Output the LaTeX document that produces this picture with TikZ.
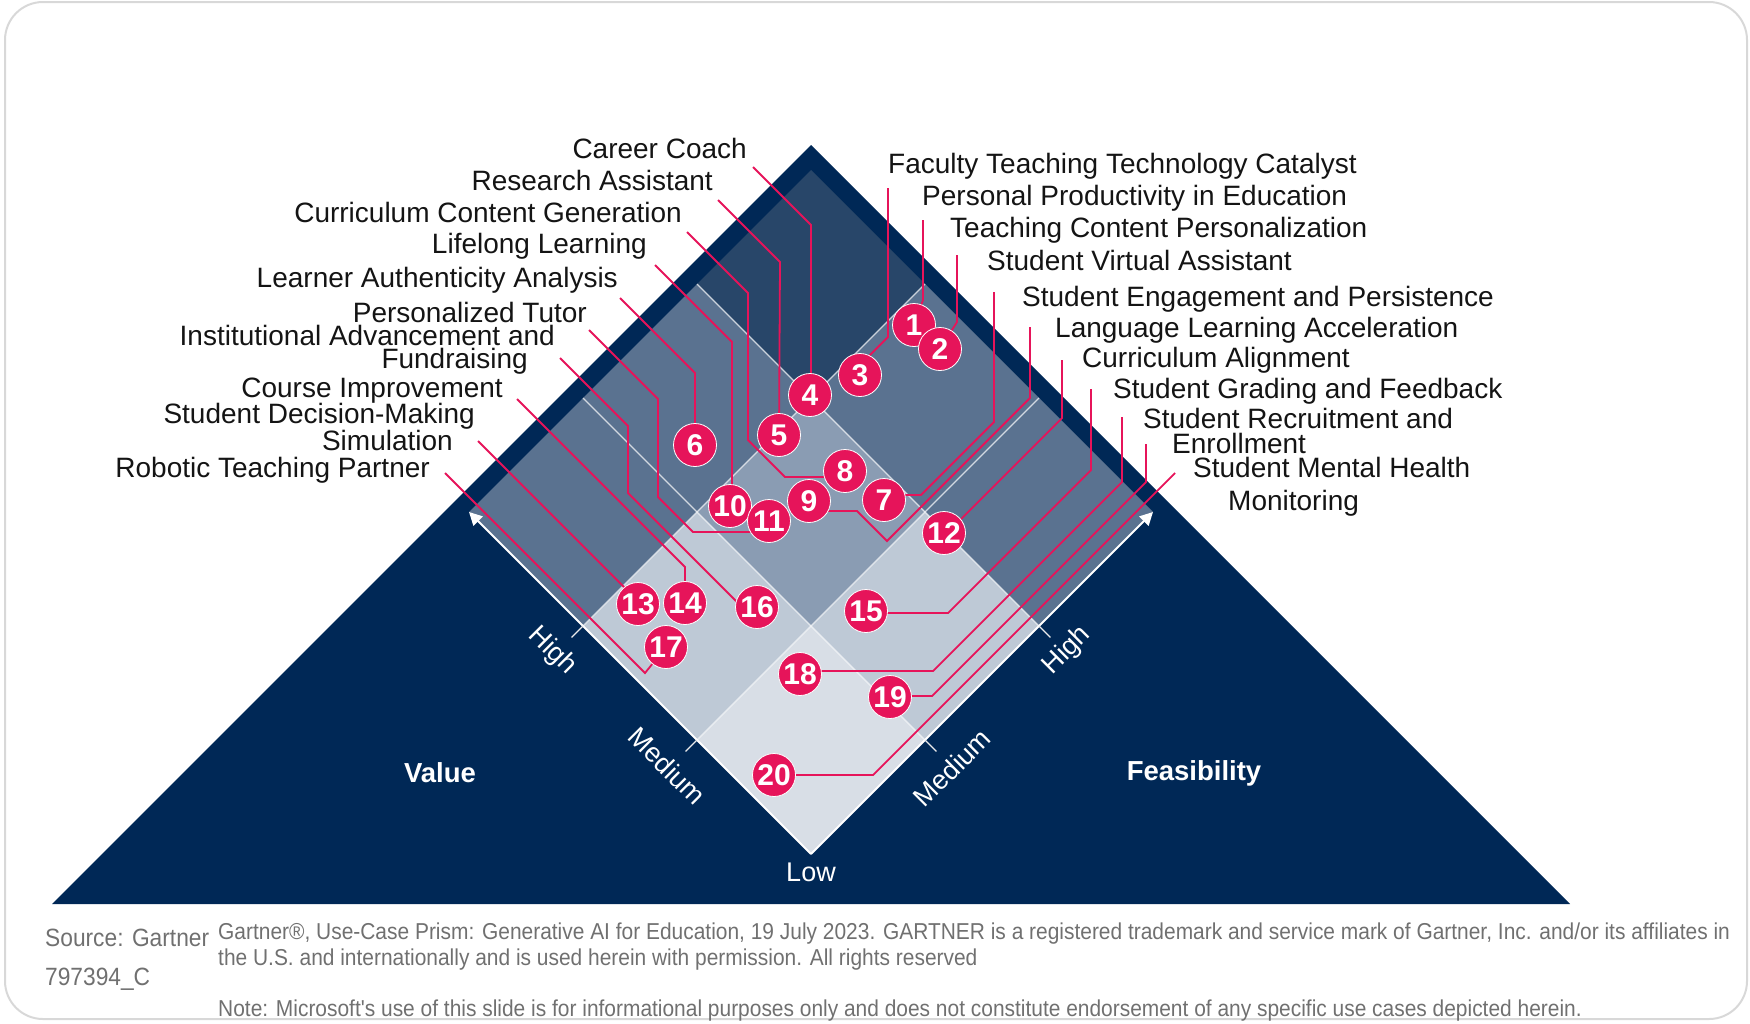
\documentclass[tikz,border=0pt]{standalone}
\usepackage{fontspec}
\setmainfont{Liberation Sans}
\newfontfamily\footfont[FakeStretch=0.91]{Liberation Sans}
\usetikzlibrary{arrows.meta}
\definecolor{navy}{HTML}{002856}
\definecolor{cTop}{HTML}{284669}
\definecolor{cMed}{HTML}{5A7290}
\definecolor{cCen}{HTML}{8A9CB3}
\definecolor{cLgt}{HTML}{BEC9D6}
\definecolor{cLow}{HTML}{D8DEE6}
\definecolor{crim}{HTML}{E6145A}
\definecolor{footgray}{HTML}{707070}
\definecolor{framegray}{HTML}{D8D8D8}
\begin{document}
\begin{tikzpicture}[x=1pt,y=-1pt,
  lab/.style={font=\fontsize{28}{30}\selectfont, text=black!92, inner sep=0pt},
  lableft/.style={lab, anchor=base east},
  labright/.style={lab, anchor=base west},
  badge/.style={circle, fill=crim, text=white, draw=white, line width=0.8pt, minimum size=43pt, inner sep=0pt, font=\bfseries\fontsize{30}{30}\selectfont},
  lead/.style={draw=crim, line width=1.8pt},
  gridl/.style={draw=white, draw opacity=0.75, line width=1.2pt},
  axl/.style={draw=white, line width=2pt},
  tickl/.style={draw=white!85!gray, line width=1.2pt},
  axlab/.style={text=white, font=\fontsize{27}{27}\selectfont, inner sep=0pt},
  bigl/.style={text=white, font=\bfseries\fontsize{27.5}{28}\selectfont, inner sep=0pt},
  ftxt/.style={text=footgray, font=\footfont\fontsize{23}{25}\selectfont, inner sep=0pt, anchor=base west},
  fside/.style={ftxt, font=\footfont\fontsize{25}{27}\selectfont}
]
\useasboundingbox (0,0) rectangle (1750,1023);
% frame
\draw[framegray, line width=2pt, rounded corners=38pt] (5,2) rectangle (1747,1019);
% outer prism
\fill[navy] (811,145) -- (1570,904) -- (52,904) -- cycle;
% grid of cells (x = feasibility, y = value)
\begin{scope}[shift={(811,854)}, x={(114pt,114pt)}, y={(-114pt,114pt)}]
  \fill[cLow] (0,0) -- (1,0) -- (1,1) -- (0,1) -- cycle;
  \fill[cLgt] (0,1) -- (1,1) -- (1,2) -- (0,2) -- cycle;
  \fill[cLgt] (1,0) -- (2,0) -- (2,1) -- (1,1) -- cycle;
  \fill[cCen] (1,1) -- (2,1) -- (2,2) -- (1,2) -- cycle;
  \fill[cMed] (0,2) -- (1,2) -- (1,3) -- (0,3) -- cycle;
  \fill[cMed] (1,2) -- (2,2) -- (2,3) -- (1,3) -- cycle;
  \fill[cMed] (2,0) -- (3,0) -- (3,1) -- (2,1) -- cycle;
  \fill[cMed] (2,1) -- (3,1) -- (3,2) -- (2,2) -- cycle;
  \fill[cTop] (2,2) -- (3,2) -- (3,3) -- (2,3) -- cycle;
  \draw[gridl] (1,0) -- (1,3);
  \draw[gridl] (2,0) -- (2,3);
  \draw[gridl] (0,1) -- (3,1);
  \draw[gridl] (0,2) -- (3,2);
  \coordinate (low) at (0,0);
  \coordinate (vtop) at (0,3);
  \coordinate (ftop) at (3,0);
  \draw[axl, -{Triangle[length=13pt,width=13pt]}] (low) -- (vtop);
  \draw[axl, -{Triangle[length=13pt,width=13pt]}] (low) -- (ftop);
  \draw[tickl] (0,2) -- (-0.1,2);
  \draw[tickl] (0,1) -- (-0.1,1);
  \draw[tickl] (2,0) -- (2,-0.1);
  \draw[tickl] (1,0) -- (1,-0.1);
\end{scope}
% axis labels
\node[axlab, rotate=-45] (vh) at (552,651) {High};
\node[axlab, rotate=-45] (vm) at (667,766) {Medium};
\node[axlab, rotate=45] (fh) at (1067,651) {High};
\node[axlab, rotate=45] (fm) at (952,768) {Medium};
\node[axlab] (lowl) at (811,872) {Low};
\node[bigl] (value) at (440,773) {Value};
\node[bigl] (feas) at (1194,773) {Feasibility};
% badge centres
\coordinate (p1) at (914,325);
\coordinate (p2) at (940,349);
\coordinate (p3) at (860,375);
\coordinate (p4) at (810,395);
\coordinate (p5) at (779,435);
\coordinate (p6) at (695,445);
\coordinate (p7) at (884,500);
\coordinate (p8) at (845,471);
\coordinate (p9) at (809,501);
\coordinate (p10) at (730,506);
\coordinate (p11) at (769,521);
\coordinate (p12) at (944,533);
\coordinate (p13) at (638,604);
\coordinate (p14) at (685,603);
\coordinate (p15) at (866,611);
\coordinate (p16) at (757,607);
\coordinate (p17) at (666,647);
\coordinate (p18) at (800,674);
\coordinate (p19) at (890,697);
\coordinate (p20) at (774,775);
% left labels
\node[lableft] (t4) at (747,158) {Career Coach};
\node[lableft] (t5) at (713,190) {Research Assistant};
\node[lableft] (t8) at (682,222) {Curriculum Content Generation};
\node[lableft] (t10) at (647,253) {Lifelong Learning};
\node[lableft] (t6) at (618,287) {Learner Authenticity Analysis};
\node[lableft] (t11) at (587,322) {Personalized Tutor};
\node[lableft] (t16) at (555,345) {Institutional Advancement and};
\node[lableft] (t16b) at (528,368) {Fundraising};
\node[lableft] (t14) at (503,397) {Course Improvement};
\node[lableft] (t13) at (475,423) {Student Decision-Making};
\node[lableft] (t13b) at (453,450) {Simulation};
\node[lableft] (t17) at (430,477) {Robotic Teaching Partner};
% right labels
\node[labright] (t3) at (888,173) {Faculty Teaching Technology Catalyst};
\node[labright] (t1) at (922,205) {Personal Productivity in Education};
\node[labright] (t2) at (950,237) {Teaching Content Personalization};
\node[labright] (t7) at (987,270) {Student Virtual Assistant};
\node[labright] (t9) at (1022,306) {Student Engagement and Persistence};
\node[labright] (t12) at (1055,337) {Language Learning Acceleration};
\node[labright] (t15) at (1082,367) {Curriculum Alignment};
\node[labright] (t18) at (1113,398) {Student Grading and Feedback};
\node[labright] (t19) at (1143,428) {Student Recruitment and};
\node[labright] (t19b) at (1172,453) {Enrollment};
\node[labright] (t20) at (1193,477) {Student Mental Health};
\node[labright] (t20b) at (1228,510) {Monitoring};
% leader lines (left)
\draw[lead] (753,167) -- (811,225) -- (811,395) -- (p4);
\draw[lead] (718,200) -- (780,262) -- (p5);
\draw[lead] (687,232) -- (748,293) -- (748,440) -- (785,477) -- (845,477);
\draw[lead] (655,265) -- (732,342) -- (732,506);
\draw[lead] (620,298) -- (695,373) -- (p6);
\draw[lead] (589,330) -- (658,399) -- (658,497) -- (693,532) -- (769,532);
\draw[lead] (560,358) -- (628,426) -- (628,493) -- (748,613);
\draw[lead] (517,399) -- (685,567) -- (p14);
\draw[lead] (478,441) -- (636,599);
\draw[lead] (445,473) -- (645,673) -- (p17);
% leader lines (right)
\draw[lead] (888,188) -- (888,337) -- (866,359);
\draw[lead] (923,220) -- (923,300) -- (p1);
\draw[lead] (957,255) -- (957,322) -- (p2);
\draw[lead] (994,292) -- (994,422) -- (921,495) -- (884,495);
\draw[lead] (1030,327) -- (1030,398) -- (887,541) -- (857,511) -- (809,511);
\draw[lead] (1062,360) -- (1062,418) -- (944,536);
\draw[lead] (1091,389) -- (1091,470) -- (948,613) -- (866,613);
\draw[lead] (1122,417) -- (1122,482) -- (933,671) -- (800,671);
\draw[lead] (1146,444) -- (1146,482) -- (932,696) -- (890,696);
\draw[lead] (1175,473) -- (873,775) -- (774,775);
% badges
\foreach \i in {1,...,20} {
  \node[badge] (c\i) at (p\i) {\i};
}
% footer
\node[fside] (src) at (45,946) {Source: Gartner};
\node[ftxt] (f1) at (218,939) {Gartner®, Use-Case Prism: Generative AI for Education, 19 July 2023. GARTNER is a registered trademark and service mark of Gartner, Inc. and/or its affiliates in};
\node[ftxt] (f2) at (218,965) {the U.S. and internationally and is used herein with permission. All rights reserved};
\node[fside] (code) at (45,985) {797394\_C};
\node[ftxt] (note) at (218,1016) {Note: Microsoft's use of this slide is for informational purposes only and does not constitute endorsement of any specific use cases depicted herein.};
\end{tikzpicture}
\end{document}
